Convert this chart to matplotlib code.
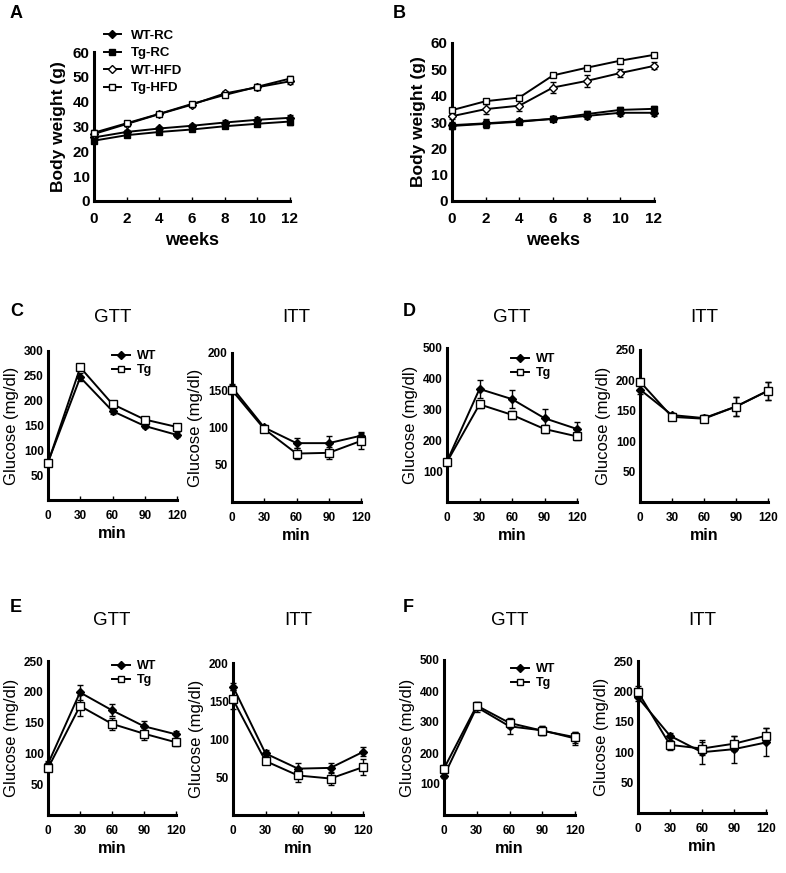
import matplotlib
matplotlib.use("Agg")
import matplotlib.pyplot as plt
from matplotlib.lines import Line2D

plt.rcParams['font.family'] = ['Liberation Sans', 'DejaVu Sans']

# body weight, weeks
weeks = [0, 2, 4, 6, 8, 10, 12]
a_wt_rc = [25.6, 27.8, 29.2, 30.3, 31.6, 32.7, 33.5]
a_tg_rc = [24.3, 26.5, 27.8, 28.8, 30.1, 31.1, 32.0]
a_wt_hfd = [27.0, 31.0, 35.0, 38.8, 43.3, 45.8, 48.2]
a_tg_hfd = [27.5, 31.3, 35.1, 39.1, 42.7, 46.0, 49.3]
a_err = [0.9, 0.9, 0.8, 0.8, 0.9, 1.0, 1.2]

b_wt_rc = [28.8, 29.5, 30.3, 31.2, 32.3, 33.5, 33.5]
b_tg_rc = [28.5, 29.3, 30.1, 31.2, 33.0, 34.6, 35.0]
b_wt_hfd = [32.2, 34.9, 36.2, 43.1, 45.6, 48.6, 51.3]
b_tg_hfd = [34.5, 37.9, 39.3, 47.7, 50.6, 53.3, 55.5]
b_err_rc = [1.2, 1.5, 1.0, 1.0, 1.0, 1.2, 1.2]
b_err_wt_hfd = [1.0, 2.0, 2.2, 2.2, 2.3, 1.5, 1.3]
b_err_tg_hfd = [0.8, 0.8, 0.8, 0.8, 0.6, 0.6, 0.8]

# glucose tests, minutes
mins = [0, 30, 60, 90, 120]
c_gtt_wt = [76, 247, 179, 149, 131]
c_gtt_wt_err = [5, 8, 6, 5, 5]
c_gtt_tg = [75, 267, 193, 162, 147]
c_gtt_tg_err = [5, 6, 6, 5, 5]
c_itt_wt = [154, 100, 79, 79, 89]
c_itt_wt_err = [5, 4, 7, 9, 5]
c_itt_tg = [150, 98, 65, 66, 82]
c_itt_tg_err = [5, 4, 7, 8, 11]

d_gtt_wt = [132, 367, 334, 272, 237]
d_gtt_wt_err = [8, 28, 30, 30, 22]
d_gtt_tg = [130, 317, 283, 237, 213]
d_gtt_tg_err = [8, 12, 12, 12, 12]
d_itt_wt = [185, 143, 138, 157, 183]
d_itt_wt_err = [8, 4, 5, 15, 15]
d_itt_tg = [198, 140, 137, 157, 183]
d_itt_tg_err = [5, 4, 6, 15, 15]

e_gtt_wt = [83, 199, 170, 144, 131]
e_gtt_wt_err = [4, 12, 10, 8, 6]
e_gtt_tg = [76, 177, 148, 132, 118]
e_gtt_tg_err = [4, 17, 10, 10, 6]
e_itt_wt = [169, 81, 61, 62, 83]
e_itt_wt_err = [5, 4, 7, 7, 6]
e_itt_tg = [152, 71, 52, 48, 63]
e_itt_tg_err = [12, 4, 8, 9, 11]

f_gtt_wt = [126, 348, 286, 273, 247]
f_gtt_wt_err = [8, 15, 25, 15, 20]
f_gtt_tg = [150, 353, 297, 272, 251]
f_gtt_tg_err = [12, 12, 15, 15, 18]
f_itt_wt = [190, 127, 100, 105, 116]
f_itt_wt_err = [5, 4, 20, 22, 23]
f_itt_tg = [199, 112, 106, 114, 127]
f_itt_tg_err = [10, 8, 10, 12, 12]

W, H = 786, 873
fig = plt.figure(figsize=(W / 100, H / 100), dpi=100)


def add_ax(left, right, top, bottom):
    # pixel box -> figure fraction
    return fig.add_axes([left / W, 1 - bottom / H, (right - left) / W, (bottom - top) / H])


def style(ax, fs=8.5, pad=5):
    for s in ['top', 'right']:
        ax.spines[s].set_visible(False)
    for s in ['left', 'bottom']:
        ax.spines[s].set_linewidth(2.2)
    ax.tick_params(axis='x', direction='in', length=3, width=1, pad=pad, labelsize=fs)
    ax.tick_params(axis='y', length=0, pad=3, labelsize=fs)
    for t in ax.get_xticklabels() + ax.get_yticklabels():
        t.set_fontweight('bold')


def series(ax, x, y, err, marker, filled, ms=5):
    ax.errorbar(x, y, yerr=err, color='black', lw=1.4, marker=marker, ms=ms,
                mfc='black' if filled else 'white', mec='black', mew=1,
                capsize=2.5, elinewidth=1, clip_on=False, zorder=3)


# ---- A ----
ax = add_ax(94, 290, 52, 201)
series(ax, weeks, a_wt_rc, a_err, 'D', True, 4.5)
series(ax, weeks, a_tg_rc, a_err, 's', True, 5)
series(ax, weeks, a_wt_hfd, a_err, 'D', False, 4.5)
series(ax, weeks, a_tg_hfd, a_err, 's', False, 5)
ax.set_xlim(0, 12)
ax.set_ylim(0, 60)
ax.set_xticks(weeks)
ax.set_yticks(range(0, 61, 10))
style(ax, 11, 8)
ax.set_ylabel('Body weight (g)', fontsize=12.5, fontweight='bold')
ax.yaxis.set_label_coords(-28 / 196, 0.5)
ax.set_xlabel('weeks', fontsize=13, fontweight='bold', labelpad=4)

handles = [
    Line2D([], [], color='black', lw=1.4, marker='D', ms=4.5, mfc='black', mec='black'),
    Line2D([], [], color='black', lw=1.4, marker='s', ms=5, mfc='black', mec='black'),
    Line2D([], [], color='black', lw=1.4, marker='D', ms=4.5, mfc='white', mec='black'),
    Line2D([], [], color='black', lw=1.4, marker='s', ms=5, mfc='white', mec='black'),
]
ax.legend(handles, ['WT-RC', 'Tg-RC', 'WT-HFD', 'Tg-HFD'], loc='upper left',
          bbox_to_anchor=(97 / W, 1 - 23 / H), bbox_transform=fig.transFigure,
          frameon=False, handlelength=1.3, handletextpad=0.8, labelspacing=0.4,
          prop={'weight': 'bold', 'size': 9.5}, borderpad=0)

# ---- B ----
ax = add_ax(452, 654, 43, 201)
series(ax, weeks, b_wt_rc, b_err_rc, 'D', True, 4.5)
series(ax, weeks, b_tg_rc, b_err_rc, 's', True, 5)
series(ax, weeks, b_wt_hfd, b_err_wt_hfd, 'D', False, 4.5)
series(ax, weeks, b_tg_hfd, b_err_tg_hfd, 's', False, 5)
ax.set_xlim(0, 12)
ax.set_ylim(0, 60)
ax.set_xticks(weeks)
ax.set_yticks(range(0, 61, 10))
style(ax, 11, 8)
ax.set_ylabel('Body weight (g)', fontsize=12.5, fontweight='bold')
ax.yaxis.set_label_coords(-26 / 202, 0.5)
ax.set_xlabel('weeks', fontsize=13, fontweight='bold', labelpad=4)


# ---- glucose panels ----
def glucose(box, title, title_y, wt, wt_err, tg, tg_err, ymax, ystep, legend=None):
    left, right, top, bottom = box
    ax = add_ax(left, right, top, bottom)
    series(ax, mins, wt, wt_err, 'D', True, 4.5)
    series(ax, mins, tg, tg_err, 's', False, 5.5)
    ax.set_xlim(0, 120)
    ax.set_ylim(0, ymax)
    ax.set_xticks(mins)
    ax.set_yticks(range(ystep, ymax + 1, ystep))
    style(ax, 8.5, 7)
    ax.set_ylabel('Glucose (mg/dl)', fontsize=12)
    ax.yaxis.set_label_coords(-29 / (right - left), 0.5)
    ax.set_xlabel('min', fontsize=11.5, fontweight='bold', labelpad=3)
    ax.set_title(title, fontsize=13.5, pad=(top - title_y - 7) * 0.72)
    if legend is not None:
        h = [Line2D([], [], color='black', lw=1.4, marker='D', ms=4, mfc='black', mec='black'),
             Line2D([], [], color='black', lw=1.4, marker='s', ms=4, mfc='white', mec='black')]
        ax.legend(h, ['WT', 'Tg'], loc='upper left', bbox_to_anchor=(legend[0] / W, 1 - legend[1] / H),
                  bbox_transform=fig.transFigure, frameon=False, handlelength=1.4,
                  handletextpad=0.6, labelspacing=0.15, prop={'weight': 'bold', 'size': 9},
                  borderpad=0)
    return ax


glucose((48, 177, 351, 500), 'GTT', 315, c_gtt_wt, c_gtt_wt_err, c_gtt_tg, c_gtt_tg_err, 300, 50, (106, 344))
glucose((232, 361, 353, 502), 'ITT', 315, c_itt_wt, c_itt_wt_err, c_itt_tg, c_itt_tg_err, 200, 50)
glucose((447, 577, 348, 502), 'GTT', 315, d_gtt_wt, d_gtt_wt_err, d_gtt_tg, d_gtt_tg_err, 500, 100, (505, 347))
glucose((640, 768, 350, 502), 'ITT', 315, d_itt_wt, d_itt_wt_err, d_itt_tg, d_itt_tg_err, 250, 50)
glucose((48, 176, 661, 815), 'GTT', 618, e_gtt_wt, e_gtt_wt_err, e_gtt_tg, e_gtt_tg_err, 250, 50, (106, 654))
glucose((233, 363, 663, 815), 'ITT', 618, e_itt_wt, e_itt_wt_err, e_itt_tg, e_itt_tg_err, 200, 50)
glucose((444, 575, 660, 815), 'GTT', 618, f_gtt_wt, f_gtt_wt_err, f_gtt_tg, f_gtt_tg_err, 500, 100, (505, 657))
glucose((638, 766, 661, 813), 'ITT', 618, f_itt_wt, f_itt_wt_err, f_itt_tg, f_itt_tg_err, 250, 50)

# panel letters
for letter, x, y in [('A', 10, 13), ('B', 393, 13), ('C', 10, 312),
                     ('D', 403, 312), ('E', 10, 608), ('F', 403, 608)]:
    fig.text(x / W, 1 - y / H, letter, fontsize=13, fontweight='bold', va='center', ha='left')

fig.savefig('out.png', dpi=100)
